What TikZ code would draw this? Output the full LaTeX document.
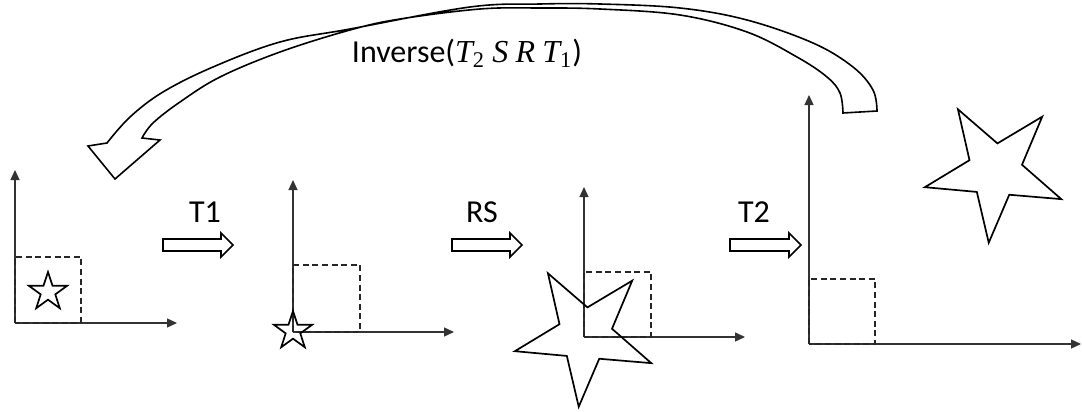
\documentclass[tikz,border=0pt]{standalone}
\usepackage{fontspec}
\setmainfont{Carlito}
\newfontfamily\mathserif{Liberation Serif}
\usetikzlibrary{arrows.meta, shapes.geometric}

\newcommand{\mv}[1]{{\mathserif\itshape #1}}
\newcommand{\ms}[1]{\textsubscript{\mathserif #1}}

\tikzset{
  axis/.style={black!80, line width=0.65pt, -{Triangle[length=5pt,width=4.5pt]}},
  frame/.style={black!85, line width=0.85pt, dash pattern=on 3pt off 1.8pt},
  starshape/.style={star, star points=5, star point ratio=2.6, draw, line width=0.85pt, inner sep=0pt, outer sep=0pt},
  fatarrow/.style={draw, line width=0.8pt, line join=miter},
  lbl/.style={font=\fontsize{16}{19}\selectfont, anchor=base, inner sep=0pt},
}

\begin{document}
\begin{tikzpicture}[x=0.5pt, y=-0.5pt]
  \useasboundingbox (0,0) rectangle (1082,412);

  % origins of the four frames
  \coordinate (o1) at (15,323);
  \coordinate (o2) at (293,332);
  \coordinate (o3) at (584,337);
  \coordinate (o4) at (809,344);

  % axes and unit boxes
  \draw[axis] (o1) -- ++(0,-153);
  \draw[axis] (o1) -- ++(162,0);
  \draw[frame] (o1) rectangle ++(66,-66);

  \draw[axis] (o2) -- ++(0,-152);
  \draw[axis] (o2) -- ++(161,0);
  \draw[frame] (o2) rectangle ++(67,-67);

  \draw[axis] (o3) -- ++(0,-150);
  \draw[axis] (o3) -- ++(161,0);
  \draw[frame] (o3) rectangle ++(67,-65);

  \draw[axis] (o4) -- ++(0,-249);
  \draw[axis] (o4) -- ++(272,0);
  \draw[frame] (o4) rectangle ++(66,-65);

  % stars
  \node[starshape, minimum size=20pt] (s1) at (48,292) {};
  \node[starshape, minimum size=20pt] (s2) at (293,331) {};
  \node[starshape, minimum size=72pt, rotate=-41] (s3) at (585,335) {};
  \node[starshape, minimum size=72pt, rotate=-41] (s4) at (995,171) {};

  % step labels and block arrows
  \node[lbl] (t1) at (205,222) {T1};
  \node[lbl] (rs) at (482,222) {RS};
  \node[lbl] (t2) at (754,222) {T2};
  \draw[fatarrow] (163,239) -- (221,239) -- (221,233) -- (233,245) -- (221,257) -- (221,251) -- (163,251) -- cycle;
  \draw[fatarrow] (452,239) -- (510,239) -- (510,233) -- (522,245) -- (510,257) -- (510,251) -- (452,251) -- cycle;
  \draw[fatarrow] (730,239) -- (789,239) -- (789,233) -- (801,245) -- (789,257) -- (789,251) -- (730,251) -- cycle;

  % inverse arrow
  \node[lbl] (inv) at (467,62) {Inverse(\mv{T}\ms{2} \mv{S} \mv{R} \mv{T}\ms{1})};
  \draw[fatarrow] plot[smooth, tension=0.6] coordinates {(877,111) (873,90) (853,67) (813,43) (747,20) (680,8) (600,4) (540,4) (470,7) (350,29) (280,42) (213,67) (163,92) (130,117) (107,143)}
    -- (88,146) -- (115,179) -- (160,140) -- (142,138)
    -- plot[smooth, tension=0.6] coordinates {(142,138) (153,123) (180,102) (220,77) (280,52) (350,30) (400,19) (480,9) (540,8) (600,9) (680,15) (747,32) (797,57) (827,77) (840,93) (843,113)}
    -- cycle;
\end{tikzpicture}
\end{document}
